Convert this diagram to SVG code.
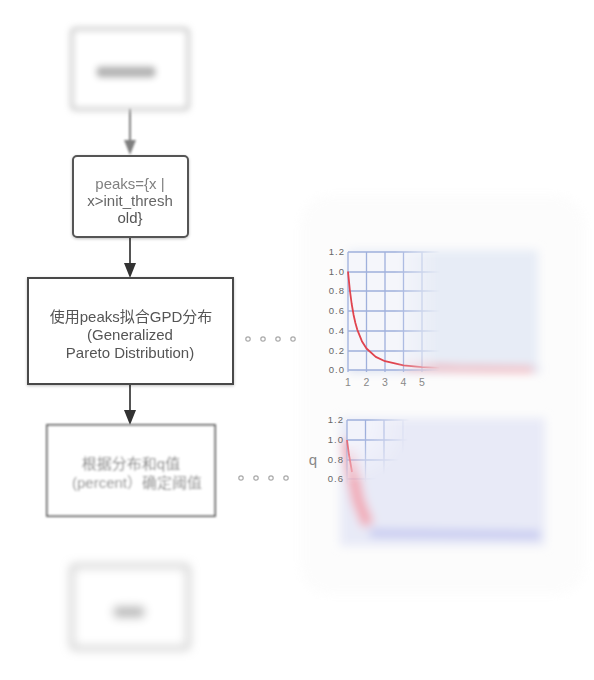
<svg xmlns="http://www.w3.org/2000/svg" width="594" height="680" viewBox="0 0 594 680">
<style>
.t{font-family:"Liberation Sans","Noto Sans CJK SC",sans-serif;font-size:15px;text-anchor:middle}
.ax{font-family:"Liberation Sans",sans-serif;font-size:9.5px;fill:#666;text-anchor:end;letter-spacing:1px}
.axx{font-family:"Liberation Sans",sans-serif;font-size:10.5px;fill:#888;text-anchor:middle}
.g{stroke:#9fb0dc;stroke-width:1.3;fill:none}
.dot{fill:none;stroke:#aaa;stroke-width:1.2}
.conn{stroke:#555;stroke-width:2;fill:none}
</style>
<defs>
<filter id="b1" x="-20%" y="-20%" width="140%" height="140%"><feGaussianBlur stdDeviation="1.1"/></filter>
<filter id="b3" x="-30%" y="-30%" width="160%" height="160%"><feGaussianBlur stdDeviation="3"/></filter>
<filter id="b5" x="-30%" y="-30%" width="160%" height="160%"><feGaussianBlur stdDeviation="5"/></filter>
<filter id="sh" x="-10%" y="-10%" width="120%" height="130%"><feGaussianBlur in="SourceAlpha" stdDeviation="1.5"/><feOffset dy="1"/><feComponentTransfer><feFuncA type="linear" slope="0.25"/></feComponentTransfer><feMerge><feMergeNode/><feMergeNode in="SourceGraphic"/></feMerge></filter>
<linearGradient id="fadeL" gradientUnits="userSpaceOnUse" x1="395" y1="0" x2="440" y2="0"><stop offset="0" stop-color="#fff"/><stop offset="1" stop-color="#000"/></linearGradient>
<mask id="m1"><rect x="300" y="230" width="260" height="170" fill="url(#fadeL)"/></mask>
<radialGradient id="fade2" gradientUnits="userSpaceOnUse" cx="350" cy="425" r="60"><stop offset="0.3" stop-color="#fff"/><stop offset="1" stop-color="#000"/></radialGradient>
<mask id="m2"><rect x="300" y="400" width="260" height="160" fill="url(#fade2)"/></mask>
</defs>
<rect width="594" height="680" fill="#fff"/>
<rect x="300" y="195" width="285" height="400" rx="30" fill="#f7f7f7" filter="url(#b5)" opacity="0.35"/>

<g id="connectors">
<g filter="url(#b1)" opacity="0.75"><line x1="130" y1="108" x2="130" y2="142" class="conn"/><path d="M124,140 L136,140 L130,155 Z" fill="#555"/></g>
<line x1="130" y1="237" x2="130" y2="264" class="conn"/><path d="M124,263 L136,263 L130,278 Z" fill="#333"/>
<line x1="130" y1="384" x2="130" y2="411" class="conn"/><path d="M124,410 L136,410 L130,425 Z" fill="#333"/>
<g filter="url(#b3)"><line x1="130" y1="516" x2="130" y2="565" stroke="#777" stroke-width="5"/></g>
</g>

<g id="node-input" filter="url(#b3)">
<rect x="72" y="29" width="116" height="80" rx="3" fill="#fff" stroke="#aaa" stroke-width="2.5"/>
<rect x="96" y="66" width="60" height="12" rx="5" fill="#b5b5b5"/>
</g>

<g id="node-peaks" filter="url(#sh)">
<rect x="73" y="156" width="115" height="81" rx="4" fill="#fff" stroke="#555" stroke-width="2"/>
<text class="t" x="130" y="189" fill="#808080">peaks={x |</text>
<text class="t" x="130" y="206" fill="#666">x&gt;init_thresh</text>
<text class="t" x="130" y="223" fill="#555">old}</text>
</g>

<g id="node-fit" filter="url(#sh)">
<rect x="28" y="278" width="205" height="106" fill="#fff" stroke="#4a4a4a" stroke-width="2"/>
<text class="t" x="131" y="322" fill="#555">使用peaks拟合GPD分布</text>
<text class="t" x="130" y="340" fill="#555">(Generalized</text>
<text class="t" x="130" y="358" fill="#555">Pareto Distribution)</text>
</g>

<g id="node-threshold" filter="url(#b1)">
<rect x="47" y="425" width="168" height="91" fill="#fff" stroke="#666" stroke-width="2"/>
<text class="t" x="131" y="469" fill="#808080">根据分布和q值</text>
<text class="t" x="137" y="488" fill="#8a8a8a">(percent）确定阈值</text>
</g>

<g id="node-output" filter="url(#b5)">
<rect x="72" y="566" width="116" height="82" rx="3" fill="#fff" stroke="#aaa" stroke-width="3"/>
<rect x="113" y="606" width="32" height="12" rx="5" fill="#bbb"/>
</g>

<g id="dots1">
<circle class="dot" cx="248" cy="339" r="2.2"/><circle class="dot" cx="263" cy="339" r="2.2"/><circle class="dot" cx="278" cy="339" r="2.2"/><circle class="dot" cx="293" cy="339" r="2.2"/>
</g>
<g id="dots2">
<circle class="dot" cx="241" cy="478" r="2.2"/><circle class="dot" cx="256" cy="478" r="2.2"/><circle class="dot" cx="271" cy="478" r="2.2"/><circle class="dot" cx="286" cy="478" r="2.2"/>
</g>

<g id="chart1">
<g filter="url(#b5)">
<rect x="348" y="250" width="190" height="122" fill="#e7ecf6"/>
<path d="M348,370 L540,370" stroke="#c9cfe8" stroke-width="3"/>
<path d="M403.5,365.4 L422,367.1 L459,368.6 L533,369.5" stroke="#f0a0a8" stroke-width="5" fill="none"/>
</g>
<g mask="url(#m1)">
<rect x="348" y="252" width="190" height="118" fill="#f5f6fb"/>
<path class="g" d="M348,252 H540 M348,272 H540 M348,291 H540 M348,311 H540 M348,331 H540 M348,351 H540 M348,370 H540 M348,252 V372 M366.5,252 V372 M385,252 V372 M403.5,252 V372 M422,252 V372 M440.5,252 V372"/>
<path d="M348,271.5 L349.85,290.1 L351.7,304 L353.55,314.7 L355.4,323 L357.25,329.6 L361.9,341.2 L366.5,348.5 L375.75,356.9 L385,361.2 L403.5,365.4 L422,367.1 L459,368.6 L533,369.5" stroke="#e0444f" stroke-width="1.8" fill="none" stroke-linejoin="round"/>
</g>
<text class="ax" x="345" y="255">1.2</text>
<text class="ax" x="345" y="275">1.0</text>
<text class="ax" x="345" y="294">0.8</text>
<text class="ax" x="345" y="314">0.6</text>
<text class="ax" x="345" y="334">0.4</text>
<text class="ax" x="345" y="354">0.2</text>
<text class="ax" x="345" y="373">0.0</text>
<text class="axx" x="348" y="386">1</text>
<text class="axx" x="366.5" y="386">2</text>
<text class="axx" x="385" y="386" fill="#999">3</text>
<text class="axx" x="403.5" y="386" fill="#aaa">4</text>
<text class="axx" x="422" y="386" fill="#ccc">5</text>
</g>

<g id="chart2">
<g filter="url(#b5)">
<rect x="340" y="418" width="205" height="128" fill="#e8eaf7"/>
<path d="M370,533 L540,535" stroke="#c4c8f0" stroke-width="8" fill="none"/>
<path d="M348,440 L352,470 L358,500 L368,525" stroke="#f2a8b4" stroke-width="12" fill="none"/>
</g>
<g mask="url(#m2)">
<rect x="347" y="420" width="190" height="120" fill="#f2f3fb"/>
<path class="g" d="M347,420 H540 M347,440 H540 M347,460 H540 M347,479 H540 M347,420 V540 M365.5,420 V540 M384,420 V540 M403,420 V540"/>
<path d="M347,440 L349,455 L352,472" stroke="#e56a76" stroke-width="1.8" fill="none"/>
</g>
<text class="ax" x="344" y="423">1.2</text>
<text class="ax" x="344" y="443">1.0</text>
<text class="ax" x="344" y="463" fill="#aaa">0.8</text>
<text class="ax" x="344" y="482" fill="#ccc">0.6</text>
<text x="313" y="465" font-family="Liberation Sans, sans-serif" font-size="15" fill="#888" text-anchor="middle">q</text>
</g>
</svg>
